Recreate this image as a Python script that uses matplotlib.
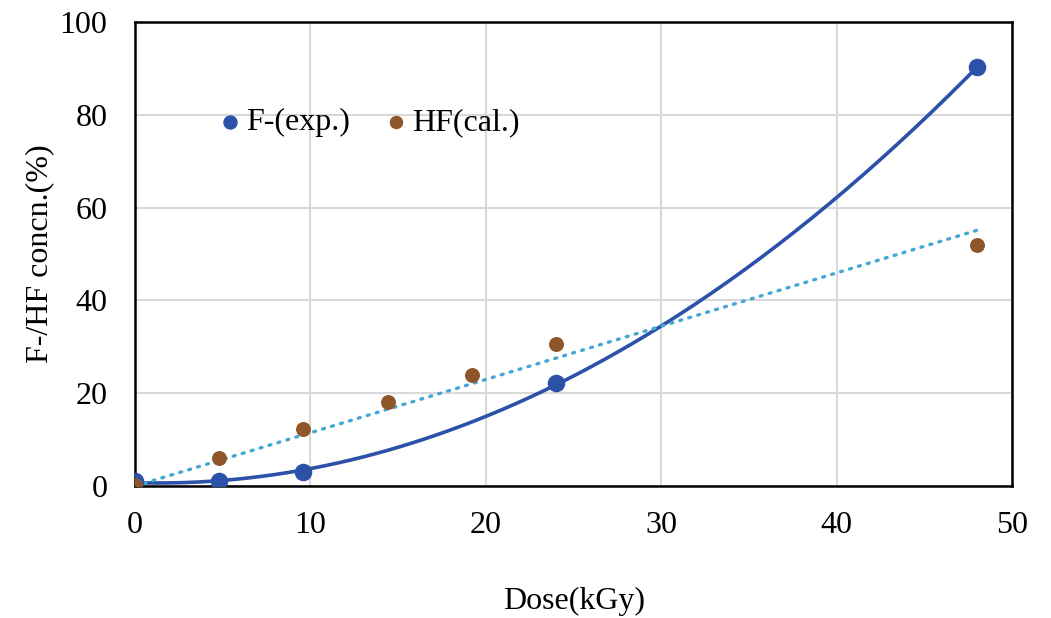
import numpy as np
import matplotlib.pyplot as plt

plt.rcParams["font.family"] = ["Liberation Serif", "DejaVu Serif"]

# F- measured
f_dose = [0, 4.8, 9.6, 24, 48]
f_conc = [1.0, 1.0, 3.1, 22.1, 90.2]

# HF calculated
hf_dose = [0, 4.8, 9.6, 14.4, 19.2, 24, 48]
hf_conc = [0.2, 6.0, 12.3, 18.2, 23.9, 30.7, 52.0]

x_ticks = [0, 10, 20, 30, 40, 50]
y_ticks = [0, 20, 40, 60, 80, 100]

blue = "#2B51A8"
brown = "#8E5629"
light_blue = "#45A7D4"

fig = plt.figure(figsize=(10.51, 6.18), dpi=100)
ax = fig.add_axes([0.1285, 0.2136, 0.8345, 0.7508])

# trendlines (Excel style: 2nd order poly for F-, linear thru origin for HF)
xs = np.linspace(0, 48, 200)
f_fit = np.polyfit(f_dose, f_conc, 2)
ax.plot(xs, np.polyval(f_fit, xs), color=blue, lw=2.6, zorder=3)
hx = np.array(hf_dose)
hy = np.array(hf_conc)
slope = (hx * hy).sum() / (hx * hx).sum()
ax.plot(xs, slope * xs, color=light_blue, lw=2.4,
        linestyle=(0, (0.6, 2.2)), dash_capstyle="round", zorder=3)

ax.scatter(f_dose, f_conc, s=135, color=blue, zorder=4, label="F-(exp.)")
ax.scatter(hf_dose, hf_conc, s=95, color=brown, zorder=4, label="HF(cal.)")

ax.set_xlim(0, 50)
ax.set_ylim(0, 100)
ax.set_xticks(x_ticks)
ax.set_yticks(y_ticks)
ax.grid(True, color="#D9D9D9", lw=1.5)
ax.set_axisbelow(True)
for sp in ax.spines.values():
    sp.set_color("black")
    sp.set_linewidth(1.8)
ax.tick_params(length=0, labelsize=23)
ax.tick_params(axis="x", pad=18)
ax.tick_params(axis="y", pad=20)

ax.set_xlabel("Dose(kGy)", fontsize=23, labelpad=34)
ax.set_ylabel("F-/HF concn.(%)", fontsize=23, labelpad=4)

leg = ax.legend(loc="center left", bbox_to_anchor=(0.097, 0.784), ncol=2,
                frameon=False, fontsize=23, handlelength=0.6,
                handletextpad=0.2, columnspacing=1.15, borderpad=0,
                borderaxespad=0)
leg.legend_handles[0].set_sizes([88])
leg.legend_handles[1].set_sizes([75])

plt.savefig("out.png", dpi=100)
plt.close()
